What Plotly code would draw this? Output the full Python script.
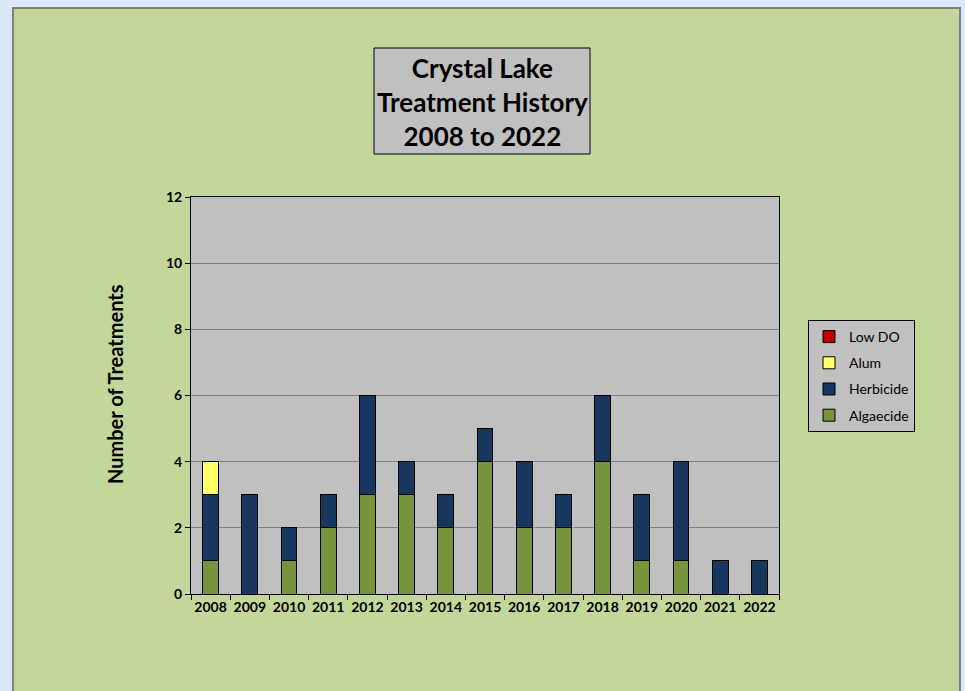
import plotly.graph_objects as go

years = ["2008", "2009", "2010", "2011", "2012", "2013", "2014", "2015",
         "2016", "2017", "2018", "2019", "2020", "2021", "2022"]
algaecide = [1, 0, 1, 2, 3, 3, 2, 4, 2, 2, 4, 1, 1, 0, 0]
herbicide = [2, 3, 1, 1, 3, 1, 1, 1, 2, 1, 2, 2, 3, 1, 1]
alum = [1, 0, 0, 0, 0, 0, 0, 0, 0, 0, 0, 0, 0, 0, 0]
low_do = [0, 0, 0, 0, 0, 0, 0, 0, 0, 0, 0, 0, 0, 0, 0]

series = [
    ("Algaecide", algaecide, "#77933C", 4),
    ("Herbicide", herbicide, "#17375E", 3),
    ("Alum", alum, "#FFFF66", 2),
    ("Low DO", low_do, "#C00000", 1),
]

W, H = 965, 691
L, R, T, B = 191, 779, 197, 594

def px(x):
    return (x - L) / (R - L)

def py(y):
    return (B - y) / (B - T)

FONT = "Lato"

fig = go.Figure()
for name, vals, col, rank in series:
    fig.add_trace(go.Bar(
        x=years, y=vals, name=name, legendgroup=name, legendrank=rank,
        marker=dict(color=col, line=dict(color="#000000", width=1)),
        width=0.4,
    ))

fig.update_layout(
    width=W, height=H,
    margin=dict(l=L, r=W - R, t=T, b=H - B, pad=0),
    paper_bgcolor="#DAE8F5",
    plot_bgcolor="rgba(0,0,0,0)",
    barmode="stack",
    font=dict(family=FONT, color="#000000"),
    showlegend=True,
    legend=dict(
        traceorder="grouped",
        x=px(808), y=py(320), xanchor="left", yanchor="top",
        bgcolor="#C0C0C0", bordercolor="#000000", borderwidth=1,
        font=dict(family=FONT, size=14, color="#000000"),
        tracegroupgap=5, itemwidth=30,
    ),
    xaxis=dict(
        type="category", tickson="boundaries", ticks="outside", ticklen=5,
        tickcolor="#000000", showline=True, linecolor="#000000", linewidth=1,
        mirror=True, showgrid=False, tickangle=0,
        tickfont=dict(family=FONT, size=14, weight="bold", color="#000000"),
    ),
    yaxis=dict(
        range=[0, 12], dtick=2, ticks="outside", ticklen=5, tickcolor="#000000",
        showline=True, linecolor="#000000", linewidth=1, mirror=True,
        showgrid=True, gridcolor="#808080", gridwidth=1, zeroline=False,
        tickfont=dict(family=FONT, size=14, weight="bold", color="#000000"),
    ),
    shapes=[
        dict(type="rect", xref="paper", yref="paper", layer="below",
             x0=px(13), x1=px(960), y0=py(700), y1=py(8),
             fillcolor="#C4D79B", line=dict(color="#808080", width=2)),
        dict(type="rect", xref="paper", yref="paper", layer="below",
             x0=0, x1=1, y0=0, y1=1,
             fillcolor="#C0C0C0", line=dict(width=0)),
        dict(type="rect", xref="paper", yref="paper", layer="above",
             x0=px(374), x1=px(590), y0=py(154), y1=py(48),
             fillcolor="#C0C0C0", line=dict(color="#000000", width=1)),
    ],
    annotations=[
        dict(xref="paper", yref="paper", x=px(482), y=py(102),
             xanchor="center", yanchor="middle", showarrow=False,
             text="Crystal Lake<br>Treatment History<br>2008 to 2022",
             font=dict(family=FONT, size=26, weight="bold", color="#000000")),
        dict(xref="paper", yref="paper", x=px(115), y=py(384),
             xanchor="center", yanchor="middle", showarrow=False,
             textangle=-90, text="Number of Treatments",
             font=dict(family=FONT, size=20, weight="bold", color="#000000")),
    ],
)

fig.write_html(
    "out.html",
    config={"displayModeBar": False},
    post_script="document.body.style.margin='0';document.body.style.background='#DAE8F5';",
)
